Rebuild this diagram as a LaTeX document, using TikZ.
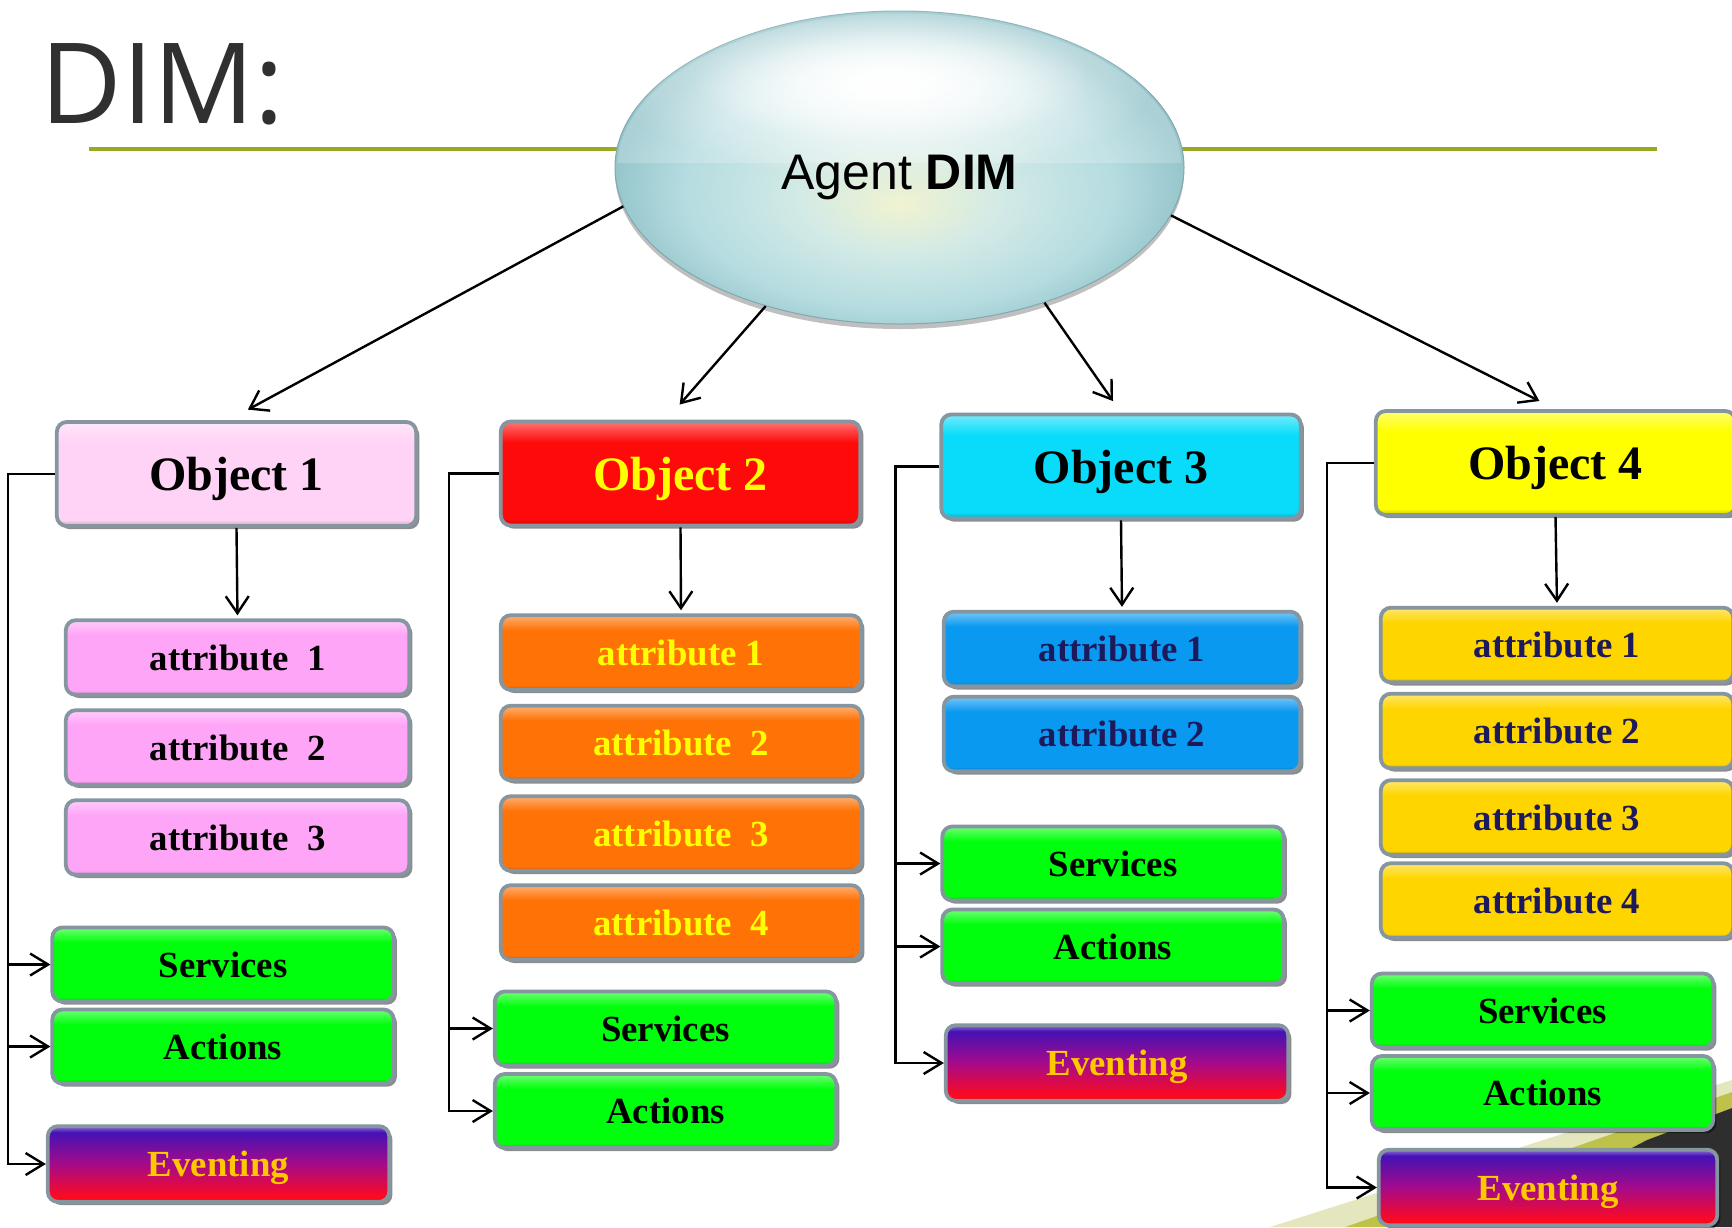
\documentclass[tikz,border=0pt]{standalone}
\usepackage{fontspec}
\setmainfont{Liberation Serif}
\newfontfamily\titlefont{Open Sans}
\newfontfamily\agentfont{Liberation Sans}
\usetikzlibrary{shapes.geometric,arrows.meta,shadows,fadings}

\definecolor{lineolive}{HTML}{9BA826}
\definecolor{titlegray}{HTML}{303030}
\definecolor{bordc}{HTML}{8696A0}
\definecolor{objpink}{HTML}{FFD3F6}
\definecolor{objred}{HTML}{FF0A0A}
\definecolor{objcyan}{HTML}{08DCFA}
\definecolor{objyellow}{HTML}{FFFF00}
\definecolor{attrpink}{HTML}{FFA5F7}
\definecolor{attrorange}{HTML}{FF7206}
\definecolor{attrblue}{HTML}{0A99F0}
\definecolor{attrgold}{HTML}{FFD500}
\definecolor{boxgreen}{HTML}{00FF0C}
\definecolor{navy}{HTML}{1C1A5C}
\definecolor{yelltext}{HTML}{FFFF00}
\definecolor{evtext}{HTML}{FFC800}
\definecolor{evtop}{HTML}{4512B5}
\definecolor{evmid}{HTML}{A50A8A}
\definecolor{evbot}{HTML}{FF0A1E}
\definecolor{gla}{HTML}{F0F3D0}
\definecolor{glb}{HTML}{D2EAE6}
\definecolor{glc}{HTML}{B5DCE0}
\definecolor{gld}{HTML}{96C6CC}
\definecolor{bandhaze}{HTML}{E4E7BE}
\definecolor{bandolive}{HTML}{BFC24A}
\definecolor{banddark}{HTML}{2E2E2E}
\colorlet{boxc}{black}

\pgfdeclareverticalshading[boxc]{glossy}{100bp}{color(0bp)=(boxc!78!black); color(25bp)=(boxc!78!black); color(28bp)=(boxc); color(65bp)=(boxc); color(72bp)=(boxc!70!white); color(75bp)=(boxc!55!white); color(100bp)=(boxc!55!white)}
\pgfdeclareverticalshading{evshade}{100bp}{color(0bp)=(evbot!85!black); color(25bp)=(evbot!85!black); color(28bp)=(evbot); color(50bp)=(evmid); color(71bp)=(evtop); color(75bp)=(evtop!60!white); color(100bp)=(evtop!60!white)}
\pgfdeclareradialshading{glass}{\pgfpoint{0bp}{-6bp}}{color(0bp)=(gla); color(9bp)=(glb); color(19bp)=(glc); color(25bp)=(gld); color(50bp)=(gld)}
\tikzfading[name=softglow, inner color=transparent!0, outer color=transparent!100]

\tikzset{
  bx/.style={rectangle, rounded corners=5pt, draw=bordc, line width=1.9pt,
    inner sep=0pt, text depth=0pt, font=\fontsize{18.4}{18.4}\selectfont\bfseries,
    drop shadow={shadow xshift=1.6pt, shadow yshift=-1.6pt, fill=black, opacity=.45}},
  gl/.style={bx, shading=glossy, /utils/exec={\colorlet{boxc}{#1}}},
  objbox/.style={gl=#1, minimum width=179.7pt, minimum height=52pt,
    font=\fontsize{24}{24}\selectfont\bfseries},
  attrbox/.style={gl=#1, minimum height=37.3pt},
  grbox/.style={gl=boxgreen, minimum width=170.7pt, minimum height=37pt, text=black},
  evbox/.style={bx, shading=evshade, minimum height=37.8pt, text=evtext},
  arr/.style={line width=1.2pt, -{Straight Barb[length=8.5pt,width=11.5pt,line width=1.2pt]}},
  conn/.style={line width=1.2pt, -{Straight Barb[length=9pt,width=11pt,line width=1.2pt]}}
}

\begin{document}
\begin{tikzpicture}[x=0.5pt,y=-0.5pt]
\useasboundingbox (0,0) rectangle (1732,1227);
\clip (0,0) rectangle (1732,1227);
\fill[white] (0,0) rectangle (1732,1227);

% slide background corner decoration
\fill[bandhaze] (1270,1227) -- (1732,1080) -- (1732,1092) -- (1345,1227) -- cycle;
\fill[bandolive] (1345,1227) -- (1732,1092) -- (1732,1108) -- (1647,1140) -- (1480,1227) -- cycle;
\fill[banddark] (1480,1227) -- (1647,1140) -- (1732,1108) -- (1732,1227) -- cycle;

% title and rule
\node[anchor=base west, inner sep=0pt, text=titlegray,
  font=\titlefont\fontsize{56}{56}\selectfont] (title) at (40,123) {DIM:};
\fill[lineolive] (89,147) rectangle (1657,151);

% agent ellipse
\node[ellipse, minimum width=284.5pt, minimum height=156.5pt, inner sep=0pt,
  shading=glass, draw=gld!85!black, line width=0.5pt,
  drop shadow={shadow xshift=0pt, shadow yshift=-2.5pt, fill=black, opacity=.25}]
  (ag) at (899.5,167.5) {};
\begin{scope}
  \clip (899.5,167.5) ellipse [x radius=282, y radius=154];
  \fill[white, fill opacity=0.2] (600,0) rectangle (1200,163);
\end{scope}
\fill[white, path fading=softglow, fill opacity=1] (885,88) ellipse [x radius=265, y radius=92];
\fill[white, path fading=softglow, fill opacity=1] (890,80) ellipse [x radius=200, y radius=65];
\node[anchor=base, inner sep=0pt, font=\agentfont\fontsize{25}{25}\selectfont, text=black] (agt) at (899.5,189) {Agent \textbf{DIM}};

% objects
\node[objbox=objpink, text=black] (o1) at (236.5,474) {Object 1};
\node[objbox=objred, text=yelltext] (o2) at (680.5,473.5) {Object 2};
\node[objbox=objcyan, text=black] (o3) at (1121,466.5) {Object 3};
\node[objbox=objyellow, text=black] (o4) at (1555.5,463) {Object 4};

% column 1
\node[attrbox=attrpink, minimum width=171.7pt, text=black] (a11) at (237.5,657.5) {attribute~~1};
\node[attrbox=attrpink, minimum width=171.7pt, text=black] (a12) at (237.5,747.5) {attribute~~2};
\node[attrbox=attrpink, minimum width=171.7pt, text=black] (a13) at (237.5,837.5) {attribute~~3};
\node[grbox] (s1) at (223,964.5) {Services};
\node[grbox] (c1) at (223,1046.5) {Actions};
\node[evbox, minimum width=170.7pt] (e1) at (218.5,1164) {Eventing};

% column 2
\node[attrbox=attrorange, minimum width=180.2pt, text=yelltext] (a21) at (681,652.5) {attribute 1};
\node[attrbox=attrorange, minimum width=180.2pt, text=yelltext] (a22) at (681,743) {attribute~~2};
\node[attrbox=attrorange, minimum width=180.2pt, text=yelltext] (a23) at (681,833.5) {attribute~~3};
\node[attrbox=attrorange, minimum width=180.2pt, text=yelltext] (a24) at (681,922.5) {attribute~~4};
\node[grbox] (s2) at (665.5,1028.5) {Services};
\node[grbox] (c2) at (665.5,1111) {Actions};

% column 3
\node[attrbox=attrblue, minimum width=178.2pt, text=navy] (a31) at (1122,649) {attribute 1};
\node[attrbox=attrblue, minimum width=178.2pt, text=navy] (a32) at (1122,734) {attribute 2};
\node[grbox] (s3) at (1113,863.5) {Services};
\node[grbox] (c3) at (1113,946.5) {Actions};
\node[evbox, minimum width=171.2pt] (e3) at (1117,1063) {Eventing};

% column 4
\node[attrbox=attrgold, minimum width=176.2pt, text=navy] (a41) at (1557,645) {attribute 1};
\node[attrbox=attrgold, minimum width=176.2pt, text=navy] (a42) at (1557,731) {attribute 2};
\node[attrbox=attrgold, minimum width=176.2pt, text=navy] (a43) at (1557,817.5) {attribute 3};
\node[attrbox=attrgold, minimum width=176.2pt, text=navy] (a44) at (1557,900.5) {attribute 4};
\node[grbox] (s4) at (1542.5,1010.5) {Services};
\node[grbox] (c4) at (1542.5,1093) {Actions};
\node[evbox, minimum width=169.2pt] (e4) at (1548,1187.5) {Eventing};

% agent to objects
\draw[arr, shorten >=11pt] (ag.188) -- ([xshift=-4pt]o1.north);
\draw[arr, shorten >=10pt] (ag.226) -- ([xshift=-7pt]o2.north);
\draw[arr, shorten >=7pt] (ag.317) -- (o3.north);
\draw[arr, shorten >=9pt] (ag.350) -- (o4.north);

% objects to first attribute
\draw[arr, shorten >=1.5pt] (o1.south) -- (a11.north);
\draw[arr, shorten >=1.5pt] (o2.south) -- (a21.north);
\draw[arr, shorten >=1.5pt] (o3.south) -- (a31.north);
\draw[arr, shorten >=1.5pt] (o4.south) -- (a41.north);

% side connectors
\draw[conn] (o1.west) -- ++(-47,0) |- (s1.west);
\draw[conn] (o1.west) -- ++(-47,0) |- (c1.west);
\draw[conn] (o1.west) -- ++(-47,0) |- (e1.west);
\draw[conn] (o2.west) -- ++(-50,0) |- (s2.west);
\draw[conn] (o2.west) -- ++(-50,0) |- (c2.west);
\draw[conn] (o3.west) -- ++(-44,0) |- (s3.west);
\draw[conn] (o3.west) -- ++(-44,0) |- (c3.west);
\draw[conn] (o3.west) -- ++(-44,0) |- (e3.west);
\draw[conn] (o4.west) -- ++(-47,0) |- (s4.west);
\draw[conn] (o4.west) -- ++(-47,0) |- (c4.west);
\draw[conn] (o4.west) -- ++(-47,0) |- (e4.west);
\end{tikzpicture}
\end{document}
